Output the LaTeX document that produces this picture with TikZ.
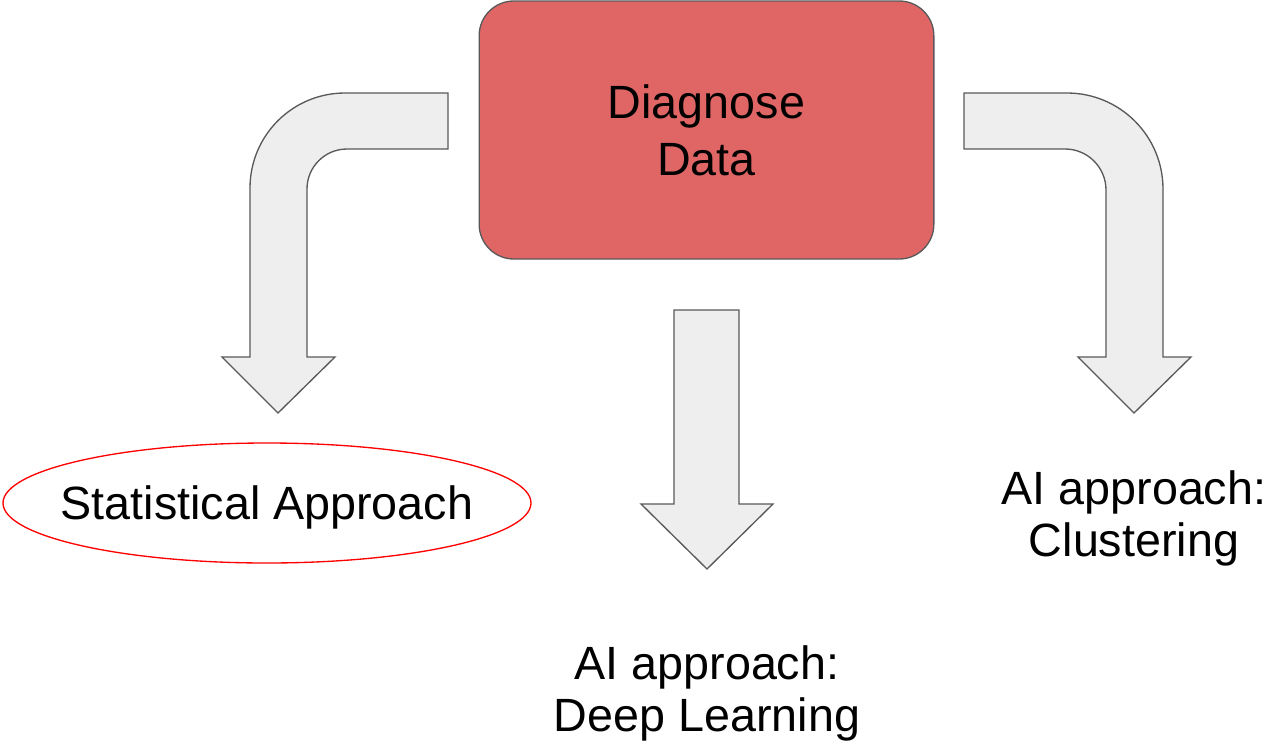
\documentclass[tikz,border=0pt]{standalone}
\usepackage{fontspec}
\setmainfont{Liberation Sans}
\definecolor{diagred}{HTML}{E06666}
\definecolor{arrowgray}{HTML}{EEEEEE}
\definecolor{edgegray}{HTML}{595959}
\definecolor{ringred}{HTML}{FF0000}
\tikzset{
  diagbox/.style={draw=edgegray, fill=diagred, line width=1pt, rounded corners=26pt,
    minimum width=341pt, minimum height=193.5pt, align=center,
    font=\fontsize{35pt}{43pt}\selectfont},
  blockarrow/.style={draw=edgegray, fill=arrowgray, line width=1pt, line join=miter},
  outcome/.style={align=center, inner sep=0pt, anchor=north,
    font=\fontsize{35pt}{39pt}\selectfont},
  ringtext/.style={inner sep=0pt, text depth=0pt, font=\fontsize{35pt}{39pt}\selectfont},
  ring/.style={draw=ringred, line width=1pt},
}
\begin{document}
\begin{tikzpicture}[x=0.75pt,y=-0.75pt]
\useasboundingbox (0,0) rectangle (1272,743);
% the source box
\node[diagbox] (diag) at (706.5,130) {Diagnose\\Data};
% left bent arrow
\draw[blockarrow] (448,93) -- (345,93) .. controls (292.5,93) and (250,135.5) .. (250,188)
  -- (250,357) -- (222,357) -- (278,413) -- (335,357) -- (307,357)
  -- (307,189) .. controls (307,166.9) and (324.9,149) .. (347,149) -- (448,149) -- cycle;
% middle straight arrow
\draw[blockarrow] (674,310) -- (739,310) -- (739,504) -- (773,504) -- (707,569)
  -- (641,504) -- (674,504) -- cycle;
% right bent arrow
\draw[blockarrow] (964,93) -- (1067,93) .. controls (1120,93) and (1163,136) .. (1163,189)
  -- (1163,357) -- (1191,357) -- (1134,413) -- (1078,357) -- (1106,357)
  -- (1106,190) .. controls (1106,167.4) and (1087.6,149) .. (1065,149) -- (964,149) -- cycle;
% outcomes
\node[ringtext] (stat) at (267,503) {Statistical Approach};
\draw[ring] (stat.center) ellipse [x radius=264, y radius=60];
\node[outcome] (clust) at (1134,470) {AI approach:\\Clustering};
\node[outcome] (deep) at (707,645) {AI approach:\\Deep Learning};
\end{tikzpicture}
\end{document}
